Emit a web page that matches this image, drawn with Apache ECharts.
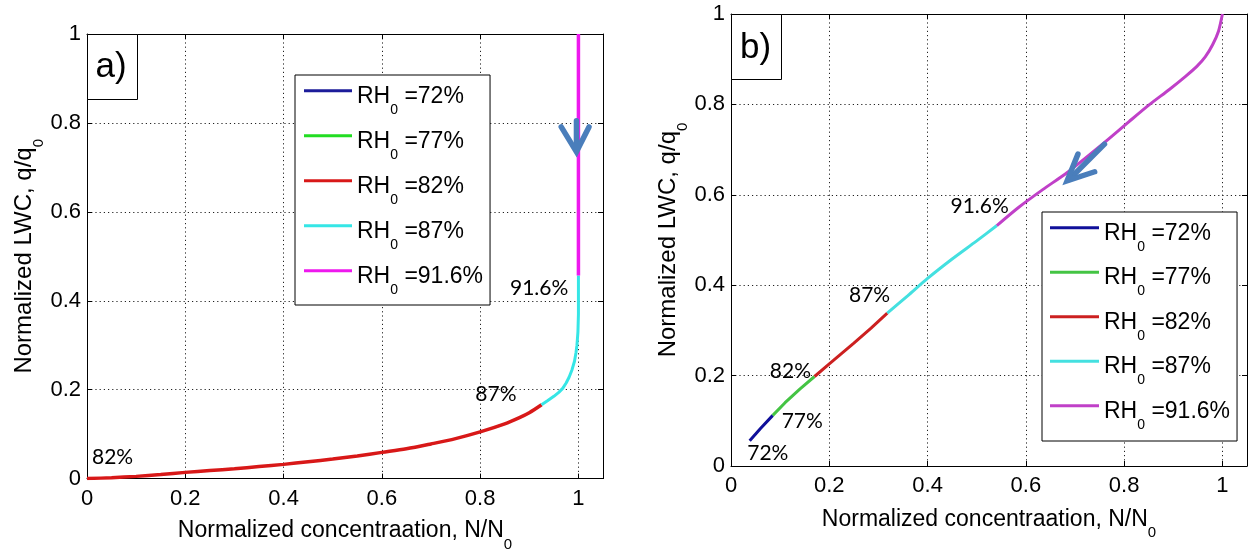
<!DOCTYPE html>
<html><head><meta charset="utf-8">
<script src="https://cdn.jsdelivr.net/npm/echarts@6/dist/echarts.min.js"></script>
<style>html,body{margin:0;padding:0;background:#fff}#c{width:1254px;height:557px}</style>
</head><body><div id="c"></div>
<script>
// ---------- data ----------
const xTickValues = [0, 0.2, 0.4, 0.6, 0.8, 1];
const yTickValues = [0, 0.2, 0.4, 0.6, 0.8, 1];
const rhLevels = ['72%', '77%', '82%', '87%', '91.6%'];

// Panel a) : N/N0 vs q/q0
const a72 = [];
const a77 = [];
const a82 = [[0,0],[0.05,0.002],[0.1,0.005],[0.15,0.009],[0.2,0.014],[0.25,0.018],[0.3,0.022],[0.35,0.027],[0.4,0.032],[0.45,0.038],[0.5,0.044],[0.55,0.051],[0.6,0.059],[0.65,0.067],[0.7,0.078],[0.75,0.09],[0.8,0.105],[0.85,0.123],[0.88,0.137],[0.9,0.148],[0.925,0.166]];
const a87 = [[0.925,0.166],[0.937,0.175],[0.95,0.185],[0.96,0.194],[0.968,0.203],[0.975,0.215],[0.981,0.228],[0.987,0.245],[0.992,0.264],[0.995,0.283],[0.997,0.3],[0.999,0.33],[1.0,0.37],[1.0,0.457]];
const a916 = [[1.0,0.457],[1.0,1.0]];

// Panel b)
const b72 = [[0.038,0.056],[0.06,0.083],[0.085,0.112]];
const b77 = [[0.085,0.112],[0.11,0.14],[0.14,0.17],[0.17,0.198]];
const b82 = [[0.17,0.198],[0.2,0.226],[0.25,0.272],[0.285,0.305],[0.318,0.338]];
const b87 = [[0.318,0.338],[0.36,0.377],[0.4,0.415],[0.45,0.458],[0.5,0.498],[0.541,0.532]];
const b916 = [[0.541,0.532],[0.585,0.572],[0.635,0.612],[0.685,0.65],[0.76,0.716],[0.81,0.762],[0.852,0.8],[0.892,0.833],[0.925,0.862],[0.948,0.884],[0.965,0.905],[0.98,0.932],[0.992,0.962],[1.0,1.0]];

// annotations [text, x, y] in data coordinates
const annotA = [['82%',0.052,0.049],['87%',0.832,0.19],['91.6%',0.92,0.429]];
const annotB = [['72%',0.075,0.028],['77%',0.145,0.098],['82%',0.121,0.21],['87%',0.282,0.378],['91.6%',0.506,0.574]];
// arrows (shaft, head) in data coordinates
const arrowA = {shaft: [[0.996,0.805],[0.996,0.74]], head: [[0.965,0.791],[0.996,0.735],[1.0215,0.791]]};
const arrowB = {shaft: [[0.760,0.712],[0.688,0.634]], head: [[0.706,0.690],[0.684,0.631],[0.740,0.651]]};

// ---------- styling ----------
const FN = "'Liberation Sans',Arial,Helvetica,sans-serif";
const GA = {left: 87, top: 34, width: 516, height: 452};
const GB = {left: 731, top: 14, width: 516, height: 452};
const colA = ['#1c1c9a', '#22dd22', '#d81818', '#35e6e6', '#ee18ee'];
const colB = ['#10109a', '#44c444', '#cc2020', '#44e0e0', '#c040c8'];
const dataA = [a72, a77, a82, a87, a916];
const dataB = [b72, b77, b82, b87, b916];

function tickFmt(v) {
  const k = Math.round(v * 5);
  if (Math.abs(v * 5 - k) > 1e-6) return '';
  return String(+(k / 5).toFixed(1));
}
const nameRichX = {
  t: {fontSize: 23, fontFamily: FN, color: '#000', lineHeight: 23, verticalAlign: 'top'},
  s: {fontSize: 15, fontFamily: FN, color: '#000', lineHeight: 15, verticalAlign: 'top', padding: [17.4, 0, 0, 0]}
};
const nameRichY = {
  t: {fontSize: 24, fontFamily: FN, color: '#000', lineHeight: 24, verticalAlign: 'top'},
  s: {fontSize: 15, fontFamily: FN, color: '#000', lineHeight: 15, verticalAlign: 'top', padding: [19, 0, 0, 0]}
};
const legendRich = {
  t: {fontSize: 23, fontFamily: FN, color: '#000', lineHeight: 23, verticalAlign: 'top', padding: [5.5, 0, 0, 0]},
  s: {fontSize: 14, fontFamily: FN, color: '#000', lineHeight: 14, verticalAlign: 'top', padding: [23.5, 0, 0, 0]}
};
const gridDots = {color: '#222', type: [1.2, 3], width: 1};

function xMain(gi, gap) {
  return {
    type: 'value', gridIndex: gi, position: 'bottom', min: 0, max: 1.05, interval: 0.2,
    axisLine: {show: true, onZero: false, lineStyle: {color: '#000', width: 1}},
    axisTick: {show: true, inside: true, length: 5, lineStyle: {color: '#000'}},
    axisLabel: {show: true, margin: 9, color: '#000', fontSize: 22, fontFamily: FN, formatter: tickFmt},
    splitLine: {show: true, lineStyle: gridDots},
    name: '{t|Normalized concentraation, N/N}{s|0}', nameLocation: 'middle', nameGap: gap,
    nameTextStyle: {rich: nameRichX}
  };
}
function yMain(gi, gap) {
  return {
    type: 'value', gridIndex: gi, position: 'left', min: 0, max: 1, interval: 0.2,
    axisLine: {show: true, onZero: false, lineStyle: {color: '#000', width: 1}},
    axisTick: {show: true, inside: true, length: 5, lineStyle: {color: '#000'}},
    axisLabel: {show: true, margin: 6, color: '#000', fontSize: 22, fontFamily: FN, formatter: tickFmt},
    splitLine: {show: true, lineStyle: gridDots},
    name: '{t|Normalized LWC, q/q}{s|0}', nameLocation: 'middle', nameGap: gap, nameRotate: 90,
    nameTextStyle: {rich: nameRichY}
  };
}
function xSec(gi) {
  return {type: 'value', gridIndex: gi, position: 'top', min: 0, max: 1.05, interval: 0.2,
    axisLine: {show: true, onZero: false, lineStyle: {color: '#000', width: 1}},
    axisTick: {show: true, inside: true, length: 5, lineStyle: {color: '#000'}},
    axisLabel: {show: false}, splitLine: {show: false}};
}
function ySec(gi) {
  return {type: 'value', gridIndex: gi, position: 'right', min: 0, max: 1, interval: 0.2,
    axisLine: {show: true, onZero: false, lineStyle: {color: '#000', width: 1}},
    axisTick: {show: true, inside: true, length: 5, lineStyle: {color: '#000'}},
    axisLabel: {show: false}, splitLine: {show: false}};
}

const namesA = rhLevels.map(r => 'A ' + r);
const namesB = rhLevels.map(r => 'B ' + r);
const widthsA = [3, 3, 3.5, 3, 3.5];
const series = [];
rhLevels.forEach((r, i) => {
  series.push({type: 'line', name: namesA[i], xAxisIndex: 0, yAxisIndex: 0, data: dataA[i],
    showSymbol: false, symbol: 'none', color: colA[i], itemStyle: {color: colA[i]},
    smooth: i === 2 ? 0.3 : false,
    lineStyle: {color: colA[i], width: widthsA[i]}, z: 3, silent: true});
});
rhLevels.forEach((r, i) => {
  series.push({type: 'line', name: namesB[i], xAxisIndex: 1, yAxisIndex: 1, data: dataB[i],
    showSymbol: false, symbol: 'none', color: colB[i], itemStyle: {color: colB[i]},
    smooth: (i === 4 || i === 3) ? 0.25 : false,
    lineStyle: {color: colB[i], width: 3}, z: 3, silent: true});
});
function legendFmt(name) { return '{t|RH}{s|0}{t| =' + name.slice(2) + '}'; }

const chart = echarts.init(document.getElementById('c'), null, {renderer: 'canvas'});
chart.setOption({
  animation: false,
  backgroundColor: '#fff',
  grid: [
    {left: GA.left, top: GA.top, width: GA.width, height: GA.height},
    {left: GB.left, top: GB.top, width: GB.width, height: GB.height}
  ],
  xAxis: [xMain(0, 41), xMain(1, 42), xSec(0), xSec(1)],
  yAxis: [yMain(0, 46), yMain(1, 46), ySec(0), ySec(1)],
  legend: [
    {data: namesA, left: 295, top: 75, orient: 'vertical', icon: 'rect', itemWidth: 48, itemHeight: 3, itemGap: 7.5,
     padding: [4.25, 7, 8.25, 9], borderColor: '#000', borderWidth: 1, backgroundColor: '#fff',
     formatter: legendFmt, textStyle: {color: '#000', rich: legendRich}, selectedMode: false, z: 20},
    {data: namesB, left: 1042, top: 212, orient: 'vertical', icon: 'rect', itemWidth: 49, itemHeight: 3, itemGap: 7,
     padding: [4.25, 7, 9.25, 8], borderColor: '#000', borderWidth: 1, backgroundColor: '#fff',
     formatter: legendFmt, textStyle: {color: '#000', rich: legendRich}, selectedMode: false, z: 20}
  ],
  series: series
});

// ---------- annotations ----------
function px(ai, p) { return chart.convertToPixel({xAxisIndex: ai, yAxisIndex: ai}, p); }
const gfx = [];
[[GA, 'a)', 24, 33], [GB, 'b)', 24.5, 34]].forEach(([g, t, dx, dy]) => {
  gfx.push({type: 'rect', z: 100, shape: {x: g.left + 0.5, y: g.top + 0.5, width: 50, height: 65},
    style: {fill: '#fff', stroke: '#000', lineWidth: 1}});
  gfx.push({type: 'text', z: 101, style: {text: t, x: g.left + dx, y: g.top + dy, align: 'center', verticalAlign: 'middle',
    font: '35px ' + FN, fill: '#000'}});
});
[[0, annotA], [1, annotB]].forEach(([ai, list]) => {
  list.forEach(([t, x, y]) => {
    const p = px(ai, [x, y]);
    gfx.push({type: 'text', z: 101, style: {text: t, x: p[0], y: p[1], align: 'center', verticalAlign: 'middle',
      font: "21px Lato, 'Open Sans', sans-serif", fill: '#000'}});
  });
});
[[0, arrowA], [1, arrowB]].forEach(([ai, ar]) => {
  gfx.push({type: 'polyline', z: 102, shape: {points: ar.shaft.map(p => px(ai, p))},
    style: {stroke: '#4a7ebb', lineWidth: 5.5, fill: null, lineCap: 'round'}});
  gfx.push({type: 'polyline', z: 102, shape: {points: ar.head.map(p => px(ai, p))},
    style: {stroke: '#4a7ebb', lineWidth: 5.5, fill: null, lineCap: 'round', lineJoin: 'miter'}});
});
chart.setOption({graphic: gfx});
</script>
</body></html>
